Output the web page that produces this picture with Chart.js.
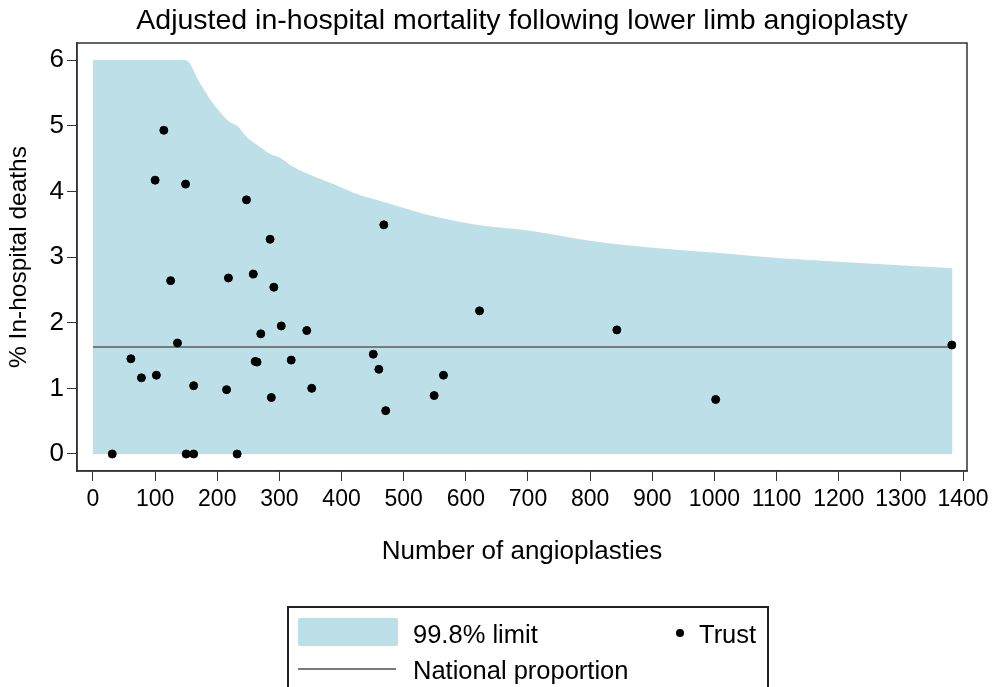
<!DOCTYPE html>
<html>
<head>
<meta charset="utf-8">
<script src="https://cdn.jsdelivr.net/npm/chart.js@4/dist/chart.umd.min.js"></script>
<style>
  body { margin: 0; background: #fff; font-family: "Liberation Sans", Arial, sans-serif; }
  #wrap { position: relative; width: 996px; height: 687px; overflow: hidden; }
  #legend { position: absolute; left: 287px; top: 606px; width: 482px; height: 110px;
            border: 2px solid #222; box-sizing: border-box; font-size: 25.5px; color: #000; }
  #legend div { position: absolute; }
  .txt { line-height: 30px; white-space: nowrap; }
</style>
</head>
<body>
<div id="wrap">
  <canvas id="funnel"></canvas>
  <div id="legend">
    <div style="left:9px; top:10px; width:100px; height:28px; background:#bcdfe8; border-radius:2px;"></div>
    <div class="txt" style="left:124px; top:11px;">99.8% limit</div>
    <div style="left:9px; top:60px; width:98px; height:2px; background:#7a7a7a;"></div>
    <div class="txt" style="left:124px; top:47px;">National proportion</div>
    <div style="left:387px; top:21px; width:8px; height:8px; border-radius:50%; background:#000;"></div>
    <div class="txt" style="left:410px; top:11px;">Trust</div>
  </div>
</div>
<script>
// trusts: number of angioplasties and adjusted % in-hospital deaths
const volumes = [31, 61, 78, 100, 102, 114, 125, 136, 149, 150, 162, 162, 215, 218, 232, 247, 258, 261, 264,
                 270, 285, 287, 291, 303, 319, 344, 352, 451, 460, 468, 471, 549, 564, 622, 843, 1002, 1382];
const deaths = [0, 1.45, 1.16, 4.17, 1.20, 4.93, 2.64, 1.69, 4.11, 0, 0, 1.04, 0.98, 2.68, 0, 3.87, 2.74, 1.41, 1.40,
                1.83, 3.27, 0.86, 2.54, 1.95, 1.43, 1.88, 1.00, 1.52, 1.29, 3.49, 0.66, 0.89, 1.20, 2.18, 1.89, 0.83, 1.66];

// upper 99.8% control limit (capped at 6)
const limitVolumes = [0, 149, 172, 193, 218, 233, 247, 268, 287, 301, 319, 352, 387, 419, 475, 548, 612,
                      703, 805, 891, 1009, 1106, 1213, 1383];
const limitUpper = [6, 6, 5.65, 5.34, 5.07, 4.99, 4.83, 4.68, 4.56, 4.51, 4.39, 4.24, 4.11, 3.98, 3.82, 3.62, 3.50,
                    3.40, 3.24, 3.15, 3.06, 2.98, 2.92, 2.83];

const nationalRate = 1.63;
const nationalRange = [0, 1383];

const xTicks = [0, 100, 200, 300, 400, 500, 600, 700, 800, 900, 1000, 1100, 1200, 1300, 1400];
const yTicks = [0, 1, 2, 3, 4, 5, 6];

const FONT = '"Liberation Sans", Arial, sans-serif';

// full box around the plot area
const frame = {
  id: 'frame',
  afterDatasetsDraw(chart) {
    const a = chart.chartArea, c = chart.ctx;
    c.save();
    c.strokeStyle = '#333';
    c.lineWidth = 1.5;
    c.strokeRect(a.left, a.top, a.right - a.left, a.bottom - a.top);
    c.restore();
  }
};

new Chart(document.getElementById('funnel'), {
  data: {
    datasets: [
      {
        type: 'scatter',
        label: 'Trust',
        data: volumes.map((v, i) => ({ x: v, y: deaths[i] })),
        backgroundColor: '#000',
        borderColor: '#000',
        pointRadius: 4,
        order: 0
      },
      {
        type: 'line',
        label: 'National proportion',
        data: nationalRange.map(v => ({ x: v, y: nationalRate })),
        borderColor: '#7a7a7a',
        borderWidth: 2,
        pointRadius: 0,
        fill: false,
        order: 1
      },
      {
        type: 'line',
        label: '99.8% limit',
        data: limitVolumes.map((v, i) => ({ x: v, y: limitUpper[i] })),
        borderWidth: 0,
        borderColor: 'rgba(0,0,0,0)',
        backgroundColor: '#bcdfe8',
        pointRadius: 0,
        cubicInterpolationMode: 'monotone',
        fill: 'origin',
        order: 2
      }
    ]
  },
  options: {
    responsive: true,
    maintainAspectRatio: false,
    animation: false,
    layout: { padding: { left: 0, top: 0, right: 29, bottom: 116 } },
    plugins: {
      legend: { display: false },
      tooltip: { enabled: false },
      title: {
        display: true,
        fullSize: false,
        text: 'Adjusted in-hospital mortality following lower limb angioplasty',
        color: '#000',
        font: { family: FONT, size: 28.5, weight: 'normal', lineHeight: 1.2 },
        padding: { top: 4, bottom: 4.8 }
      }
    },
    scales: {
      x: {
        type: 'linear',
        min: -25.7,
        max: 1406.4,
        afterBuildTicks: s => { s.ticks = xTicks.map(v => ({ value: v })); },
        afterFit: s => { s.height = 100; },
        grid: { drawOnChartArea: false, drawTicks: true, tickLength: 10, tickColor: '#333' },
        border: { display: true, color: '#333', width: 1.5 },
        ticks: { color: '#000', padding: 5, maxRotation: 0, autoSkip: false,
                 callback: v => String(v),
                 font: { family: FONT, size: 23 } },
        title: { display: true, text: 'Number of angioplasties', color: '#000',
                 font: { family: FONT, size: 26 }, padding: { top: 0, bottom: 4 } }
      },
      y: {
        type: 'linear',
        min: -0.259,
        max: 6.259,
        afterBuildTicks: s => { s.ticks = yTicks.map(v => ({ value: v })); },
        afterFit: s => { s.width = 77; },
        grid: { drawOnChartArea: false, drawTicks: true, tickLength: 10, tickColor: '#333' },
        border: { display: true, color: '#333', width: 1.5 },
        ticks: { color: '#000', padding: 3, callback: v => String(v),
                 font: { family: FONT, size: 26 } },
        title: { display: true, text: '% In-hospital deaths', color: '#000',
                 font: { family: FONT, size: 24.5 }, padding: { top: 5, bottom: 0 } }
      }
    }
  },
  plugins: [frame]
});
</script>
</body>
</html>
